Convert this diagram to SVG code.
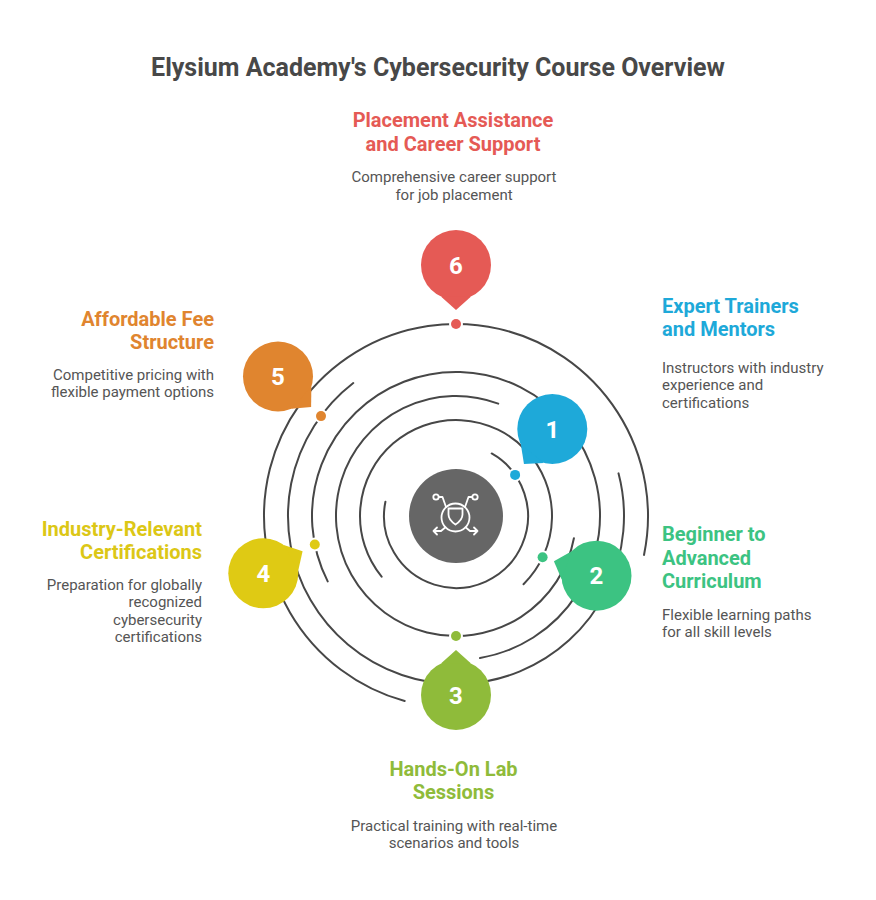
<svg xmlns="http://www.w3.org/2000/svg" width="876" height="900" viewBox="0 0 876 900">
<style>
.ring{fill:none;stroke:#474747;stroke-width:2;stroke-linecap:round}
.title{font-family:Roboto,"Liberation Sans",Arial,sans-serif;font-weight:700;font-size:25px;fill:#484848}
.lbl{font-family:Roboto,"Liberation Sans",Arial,sans-serif;font-weight:700;font-size:20px}
.desc{font-family:Roboto,"Liberation Sans",Arial,sans-serif;font-weight:400;font-size:15px;fill:#555555}
.num{font-family:Roboto,"Liberation Sans",Arial,sans-serif;font-weight:700;font-size:24px;fill:#ffffff;text-anchor:middle}
.halo{fill:#ffffff}
.icon{fill:none;stroke:#ffffff;stroke-width:1.8;stroke-linecap:round;stroke-linejoin:round}
</style>
<rect width="876" height="900" fill="#ffffff"/>
<text class="title" x="438" y="76" text-anchor="middle">Elysium Academy's Cybersecurity Course Overview</text>

<g id="connectors">
<path class="ring" d="M491.68,453.46 A72,72 0 1 1 385.42,501.77"/>
<path class="ring" d="M381.61,576.67 A96,96 0 1 1 523.53,584.24"/>
<path class="ring" d="M573.91,538.28 A120,120 0 1 1 498.22,403.67"/>
<path class="ring" d="M327.70,581.38 A144,144 0 1 1 480.02,657.98"/>
<path class="ring" d="M618.50,473.37 A168,168 0 1 1 353.26,383.08"/>
<path class="ring" d="M404.69,701.01 A192,192 0 1 1 644.01,554.93"/>
</g>

<g id="center">
<circle cx="456" cy="516" r="47" fill="#666666"/>
<g class="icon" transform="translate(455.5,517.5)">
<circle cx="0" cy="0" r="14"/>
<path d="M-7,-9 L7,-9 L7,-3 C7,2 3,5 0,7 C-3,5 -7,2 -7,-3 Z"/>
<circle cx="-19.5" cy="-20.5" r="2.7"/>
<circle cx="19.5" cy="-20.5" r="2.7"/>
<path d="M-16.8,-20.5 L-13,-20.5 L-9.5,-10.5"/>
<path d="M16.8,-20.5 L13,-20.5 L9.5,-10.5"/>
<path d="M-10,9.8 L-14.5,13.5 L-22,13.5 M-18.5,10 L-22,13.5 L-18.5,17"/>
<path d="M10,9.8 L14.5,13.5 L22,13.5 M18.5,10 L22,13.5 L18.5,17"/>
</g>
</g>

<g id="node1">
<circle class="halo" cx="515.1" cy="474.9" r="7"/>
<circle cx="515.1" cy="474.9" r="5" fill="#1ea9d9"/>
<circle cx="552.3" cy="429" r="35" fill="#1ea9d9"/>
<polygon points="543.83,462.96 523.96,463.96 520.84,444.34" fill="#1ea9d9"/>
<text class="num" x="552.3" y="437.5">1</text>
<text class="lbl" fill="#1ea9d9" x="662" y="313">Expert Trainers<tspan x="662" y="336">and Mentors</tspan></text>
<text class="desc" x="662" y="372.5">Instructors with industry<tspan x="662" y="390">experience and</tspan><tspan x="662" y="407.5">certifications</tspan></text>
</g>

<g id="node2">
<circle class="halo" cx="542.6" cy="557.3" r="7"/>
<circle cx="542.6" cy="557.3" r="5" fill="#3cc382"/>
<circle cx="596.5" cy="575.7" r="35" fill="#3cc382"/>
<polygon points="561.70,579.45 553.91,561.16 571.25,551.46" fill="#3cc382"/>
<text class="num" x="596.5" y="584.2">2</text>
<text class="lbl" fill="#3cc382" x="662" y="541">Beginner to<tspan x="662" y="564.5">Advanced</tspan><tspan x="662" y="588">Curriculum</tspan></text>
<text class="desc" x="662" y="619.5">Flexible learning paths<tspan x="662" y="637">for all skill levels</tspan></text>
</g>

<g id="node3">
<circle class="halo" cx="456" cy="636" r="7"/>
<circle cx="456" cy="636" r="5" fill="#8fbb3a"/>
<circle cx="456" cy="695" r="35" fill="#8fbb3a"/>
<polygon points="441.21,663.28 456,650 470.79,663.28" fill="#8fbb3a"/>
<text class="num" x="456" y="703.5">3</text>
<text class="lbl" fill="#8fbb3a" x="453.5" y="776" text-anchor="middle">Hands-On Lab<tspan x="453.5" y="798.5">Sessions</tspan></text>
<text class="desc" x="454" y="830.5" text-anchor="middle">Practical training with real-time<tspan x="454" y="847.5">scenarios and tools</tspan></text>
</g>

<g id="node4">
<circle class="halo" cx="314.8" cy="544.5" r="7"/>
<circle cx="314.8" cy="544.5" r="5" fill="#dfca14"/>
<circle cx="263.3" cy="573.3" r="35" fill="#dfca14"/>
<polygon points="283.78,544.91 302.58,551.34 298.21,570.74" fill="#dfca14"/>
<text class="num" x="263.3" y="581.8">4</text>
<text class="lbl" fill="#dcc716" x="202" y="536" text-anchor="end">Industry-Relevant<tspan x="202" y="559">Certifications</tspan></text>
<text class="desc" x="202" y="590" text-anchor="end">Preparation for globally<tspan x="202" y="607.3">recognized</tspan><tspan x="202" y="624.6">cybersecurity</tspan><tspan x="202" y="641.9">certifications</tspan></text>
</g>

<g id="node5">
<circle class="halo" cx="321" cy="416.1" r="7"/>
<circle cx="321" cy="416.1" r="5" fill="#e0852f"/>
<circle cx="278" cy="376.5" r="35" fill="#e0852f"/>
<polygon points="311.36,387.11 311.10,406.98 291.31,408.87" fill="#e0852f"/>
<text class="num" x="278" y="385">5</text>
<text class="lbl" fill="#e0852f" x="214" y="325.7" text-anchor="end">Affordable Fee<tspan x="214" y="348.5">Structure</tspan></text>
<text class="desc" x="214" y="380.3" text-anchor="end">Competitive pricing with<tspan x="214" y="397.3">flexible payment options</tspan></text>
</g>

<g id="node6">
<circle class="halo" cx="456" cy="324" r="7"/>
<circle cx="456" cy="324" r="5" fill="#e55a55"/>
<circle cx="456" cy="265" r="35" fill="#e55a55"/>
<polygon points="441.21,296.72 456,310 470.79,296.72" fill="#e55a55"/>
<text class="num" x="456" y="273.5">6</text>
<text class="lbl" fill="#e55a55" x="453" y="126.7" text-anchor="middle">Placement Assistance<tspan x="453" y="150.5">and Career Support</tspan></text>
<text class="desc" x="454" y="182.3" text-anchor="middle">Comprehensive career support<tspan x="454" y="199.5">for job placement</tspan></text>
</g>
</svg>
